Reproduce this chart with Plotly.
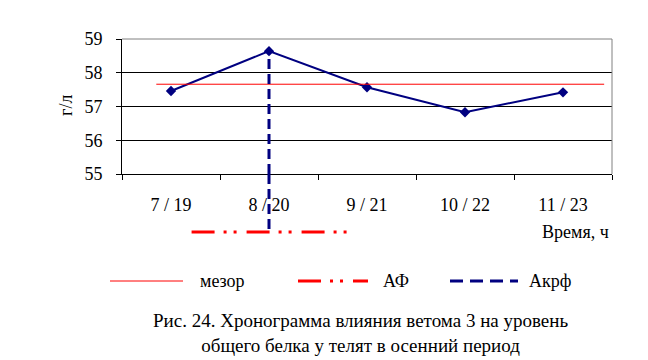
import plotly.graph_objects as go

categories = ["7 / 19", "8 / 20", "9 / 21", "10 / 22", "11 / 23"]
protein = [57.46, 58.64, 57.57, 56.83, 57.42]
mesor = 57.66
mesor_span = [-0.15, 4.42]
acrophase_idx = 1
af_span = [0.21, 1.81]
y_ticks = [55, 56, 57, 58, 59]

W, H = 648, 360
L, R, T, B = 122, 612, 39, 174
FONT = "Liberation Serif, Times New Roman, serif"
NAVY = "#000080"
RED = "#FF0000"


def px(x):
    return (x - L) / (R - L)


def py(y):
    return (B - y) / (B - T)


fig = go.Figure()
fig.add_trace(go.Scatter(
    x=categories, y=protein, mode="lines+markers",
    line=dict(color=NAVY, width=2),
    marker=dict(symbol="diamond", size=8, color=NAVY),
    showlegend=False, hoverinfo="skip"))

shapes = []
shapes.append(dict(type="line", xref="x", yref="y", x0=mesor_span[0], x1=mesor_span[1],
                   y0=mesor, y1=mesor, line=dict(color=RED, width=1), layer="above"))
shapes.append(dict(type="line", xref="paper", yref="paper", x0=0, x1=1, y0=1, y1=1,
                   line=dict(color="#808080", width=1), layer="above"))
shapes.append(dict(type="line", xref="paper", yref="paper", x0=1, x1=1, y0=0, y1=1,
                   line=dict(color="#808080", width=1), layer="above"))
shapes.append(dict(type="line", xref="x", yref="y", x0=acrophase_idx, x1=acrophase_idx,
                   y0=y_ticks[0], y1=protein[acrophase_idx],
                   line=dict(color=NAVY, width=3, dash="10px,5px"), layer="above"))
shapes.append(dict(type="line", xref="x", yref="paper", x0=acrophase_idx, x1=acrophase_idx,
                   y0=0, y1=py(232),
                   line=dict(color=NAVY, width=3, dash="10px,5px"), layer="above"))
AF_DASH = "23px,9px,3px,7px,3px,10px"
shapes.append(dict(type="line", xref="x", yref="paper", x0=af_span[0], x1=af_span[1],
                   y0=py(232), y1=py(232),
                   line=dict(color=RED, width=3, dash=AF_DASH), layer="above"))
ly = py(281)
shapes.append(dict(type="line", xref="paper", yref="paper", x0=px(110), x1=px(183),
                   y0=ly, y1=ly, line=dict(color=RED, width=1)))
shapes.append(dict(type="line", xref="paper", yref="paper", x0=px(298), x1=px(368),
                   y0=ly, y1=ly, line=dict(color=RED, width=3, dash=AF_DASH)))
shapes.append(dict(type="line", xref="paper", yref="paper", x0=px(450), x1=px(518),
                   y0=ly, y1=ly, line=dict(color=NAVY, width=3, dash="13px,7px")))

F = dict(family=FONT, size=18, color="black")
F19 = dict(family=FONT, size=19, color="black")
annotations = [
    dict(text="г/л", xref="paper", yref="paper", x=px(66), y=py(106), textangle=-90,
         xanchor="center", yanchor="middle", showarrow=False, font=F),
    dict(text="Время, ч", xref="paper", yref="paper", x=px(611), y=py(232), xanchor="right",
         yanchor="middle", showarrow=False, font=F),
    dict(text="мезор", xref="paper", yref="paper", x=px(198), y=ly, xanchor="left",
         yanchor="middle", showarrow=False, font=F),
    dict(text="АФ", xref="paper", yref="paper", x=px(381), y=ly, xanchor="left",
         yanchor="middle", showarrow=False, font=F),
    dict(text="Акрф", xref="paper", yref="paper", x=px(527), y=ly, xanchor="left",
         yanchor="middle", showarrow=False, font=F),
    dict(text="Рис. 24. Хронограмма влияния ветома 3 на уровень<br>общего белка у телят в осенний период",
         xref="paper", yref="paper", x=px(360), y=py(333), xanchor="center", yanchor="middle",
         showarrow=False, align="center", font=F19),
]

fig.update_layout(
    template="none",
    width=W, height=H,
    margin=dict(l=L, r=W - R, t=T, b=H - B, pad=0, autoexpand=False),
    paper_bgcolor="white", plot_bgcolor="white",
    font=F,
    shapes=shapes, annotations=annotations, showlegend=False,
    xaxis=dict(type="category", range=[-0.5, 4.5], showgrid=False, zeroline=False,
               automargin=False,
               showline=True, linecolor="black", linewidth=1,
               ticks="outside", tickson="boundaries", ticklen=5, tickcolor="black",
               ticklabelstandoff=14, tickfont=F),
    yaxis=dict(range=[55, 59], tickvals=y_ticks, showgrid=True, gridcolor="black", gridwidth=1,
               automargin=False,
               zeroline=False, showline=True, linecolor="black", linewidth=1,
               ticks="outside", ticklen=5, tickcolor="black",
               ticklabelstandoff=10, tickfont=F),
)

fig.write_html("out.html", config={"displayModeBar": False},
               post_script="document.body.style.margin='0';document.body.style.overflow='hidden';")
